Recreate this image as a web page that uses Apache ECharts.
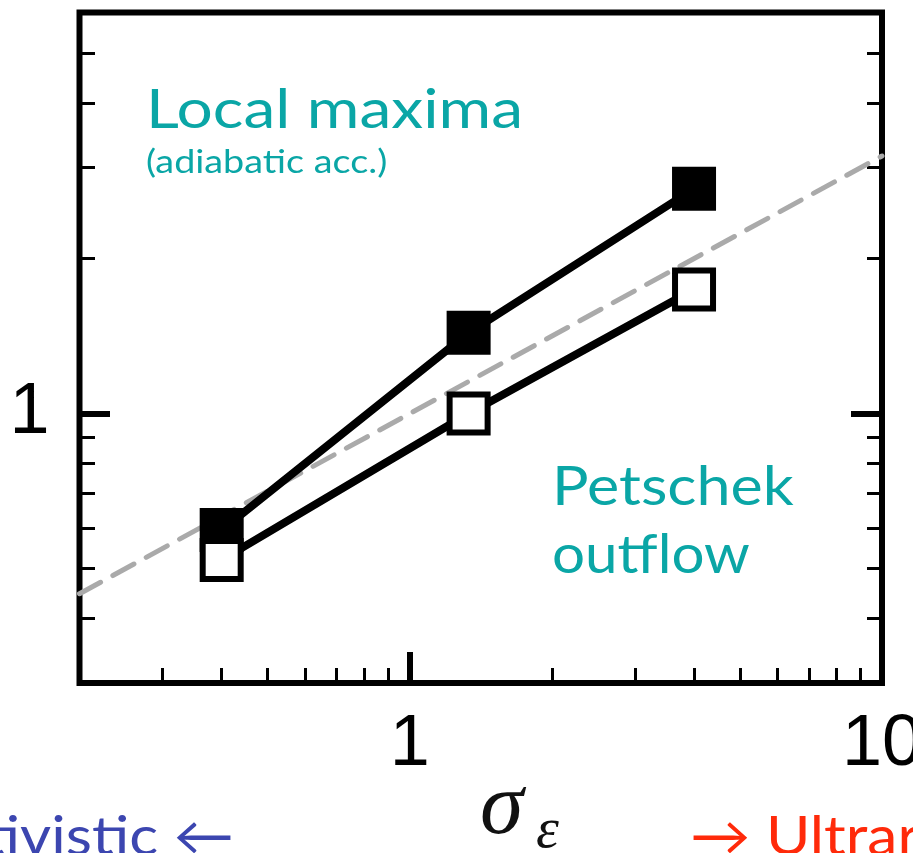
<!DOCTYPE html>
<html><head><meta charset="utf-8">
<script src="https://cdn.jsdelivr.net/npm/echarts@6/dist/echarts.min.js"></script>
<style>html,body{margin:0;padding:0;background:#fff}#c{width:913px;height:853px}</style>
</head><body><div id="c"></div>
<script>
// ---- data ----
const xRange = [0.2, 10];
const yRange = [0.3, 6];
const sigmaValues = [0.4, 1.333, 4];
const localMaxima = [0.594, 1.434, 2.73];
const petschekOutflow = [0.52, 1.0, 1.74];
const refLineX = [0.2, 10];
const refLineY = [0.447, 3.16];
const xMinorTicks = [0.3, 0.4, 0.5, 0.6, 0.7, 0.8, 0.9, 2, 3, 4, 5, 6, 7, 8, 9];
const xMajorTicks = [1, 10];
const xTickLabels = [1, 10];
const yMinorTicks = [0.4, 0.5, 0.6, 0.7, 0.8, 0.9, 2, 3, 4, 5];
const yMajorTicks = [1];
const yTickLabels = [1];

const pairs = (xs, ys) => xs.map((x, i) => [x, ys[i]]);
const TEAL = '#0aa6a6';

function logAxis(range, position, tickVals, len, width, labels, labelOpt) {
  return {
    type: 'log', logBase: 10, min: range[0], max: range[1], position: position,
    axisLine: { show: false }, splitLine: { show: false },
    axisTick: { show: true, inside: true, length: len, customValues: tickVals,
      lineStyle: { color: '#000', width: width } },
    axisLabel: labels ? Object.assign({ show: true, customValues: labels, color: '#000',
      fontFamily: 'Liberation Sans', fontSize: 72, formatter: v => String(v),
      hideOverlap: false }, labelOpt || {})
      : { show: false }
  };
}

function txt(x, y, text, font, fill, sx, align) {
  return { type: 'text', x: x, y: y, scaleX: sx || 1,
    style: { text: text, font: font, fill: fill, textAlign: align || 'left', textVerticalAlign: 'middle' } };
}

const chart = echarts.init(document.getElementById('c'), null, { renderer: 'canvas' });
chart.setOption({
  animation: false,
  backgroundColor: '#fff',
  grid: { left: 79.5, top: 12.5, right: 31, bottom: 170, show: true, outerBoundsMode: 'none',
    borderColor: '#000', borderWidth: 6, backgroundColor: 'transparent', containLabel: false },
  xAxis: [
    logAxis(xRange, 'bottom', xMinorTicks, 15, 3, null),
    logAxis(xRange, 'bottom', xMajorTicks, 31, 6, xTickLabels, { margin: 26 })
  ],
  yAxis: [
    logAxis(yRange, 'left', yMinorTicks, 15.5, 3, null),
    logAxis(yRange, 'left', yMajorTicks, 30.5, 6, yTickLabels, { margin: 30 }),
    logAxis(yRange, 'right', yMinorTicks, 15, 3, null),
    logAxis(yRange, 'right', yMajorTicks, 31, 6, null)
  ],
  series: [
    { type: 'line', name: 'ref', data: pairs(refLineX, refLineY), showSymbol: false, symbol: 'none',
      z: 1, lineStyle: { color: '#aaaaaa', width: 5, type: [24, 14], cap: 'round' } },
    { type: 'line', name: 'Local maxima', data: pairs(sigmaValues, localMaxima),
      symbol: 'rect', symbolSize: 44, z: 3,
      lineStyle: { color: '#000', width: 8 }, itemStyle: { color: '#000' } },
    { type: 'line', name: 'Petschek outflow', data: pairs(sigmaValues, petschekOutflow),
      symbol: 'rect', symbolSize: 38, z: 4,
      lineStyle: { color: '#000', width: 8 },
      itemStyle: { color: '#fff', borderColor: '#000', borderWidth: 6 } }
  ],
  graphic: [
    txt(146, 111, 'Local maxima', '54px Lato', TEAL, 1.186),
    txt(146, 163, '(adiabatic acc.)', '32px Lato', TEAL, 1.18),
    txt(552, 488, 'Petschek', '54px Lato', TEAL, 1.13),
    txt(552, 556, 'outflow', '54px Lato', TEAL, 1.08),
    txt(480, 810, 'σ', 'italic 88px "Liberation Serif"', '#111'),
    txt(536, 832, 'ε', 'italic 58px "Liberation Serif"', '#111'),
    txt(234, 838, 'Nonrelativistic ←', '54px Lato', '#3c46b0', 1.12, 'right'),
    txt(690, 838, '→ Ultrarelativistic', '54px Lato', '#ff2a0a', 1.12, 'left')
  ]
});
</script></body></html>
